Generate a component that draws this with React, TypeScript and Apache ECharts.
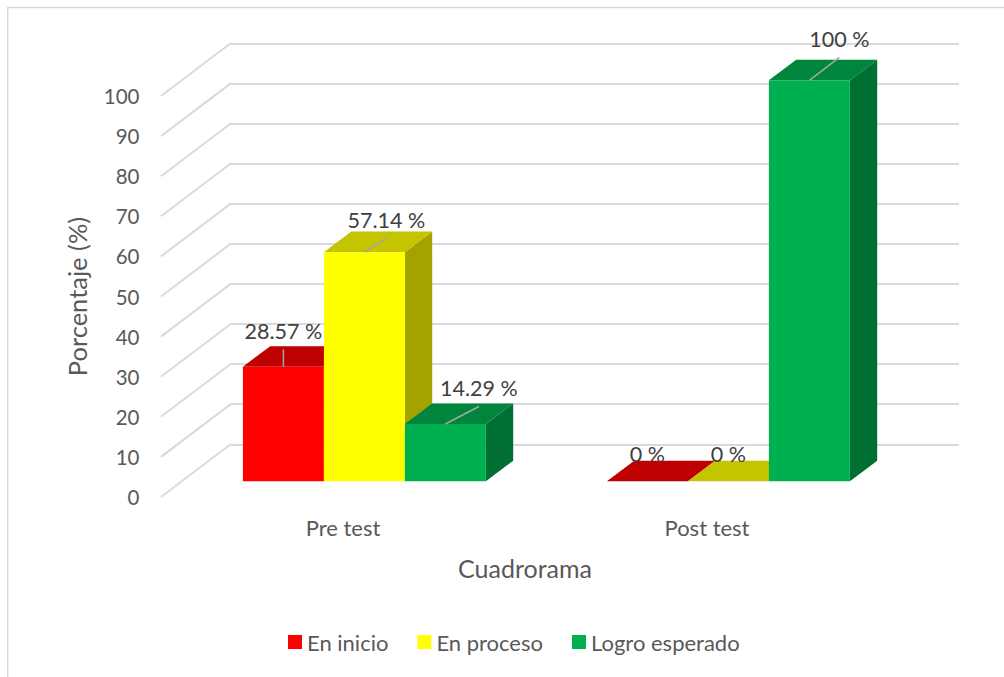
import React, { useEffect, useRef } from "react";
import * as echarts from "echarts";

const categories = ["Pre test", "Post test"];
const seriesNames = ["En inicio", "En proceso", "Logro esperado"];
const enInicio = [28.57, 0];
const enProceso = [57.14, 0];
const logroEsperado = [14.29, 100];
const valueTicks = [0, 10, 20, 30, 40, 50, 60, 70, 80, 90, 100];
const labelTexts = [
  ["28.57 %", "0 %"],
  ["57.14 %", "0 %"],
  ["14.29 %", "100 %"],
];

const FONT = "Lato";
const palette = [
  { front: "#FF0000", top: "#BF0000", side: "#A60000" },
  { front: "#FFFF00", top: "#C4C400", side: "#A3A300" },
  { front: "#00B050", top: "#00853C", side: "#006F32" },
];
const BAR_DEPTH = [27.3, -20.6];
const WALL_DEPTH = [70, -53];
const BAR_FRACTION = 0.2225;
// [label dx, label dy, leader dx, leader dy] from the middle of the bar's front top edge
const labelLayout = [
  [[0, -36, 0, -17.5], [0, -27, 0, 0]],
  [[22, -32, 22, -14], [0, -27, 0, 0]],
  [[33.5, -36, 33.5, -17.5], [30, -41, 30, -23]],
];

const allValues = [enInicio, enProceso, logroEsperado];

function barFaces(sIdx: number) {
  return (_params: any, api: any) => {
    const cat = api.value(0);
    const val = api.value(1);
    const band = api.size([1, 0])[0];
    const barW = band * BAR_FRACTION;
    const c = api.coord([cat, val]);
    const b = api.coord([cat, 0]);
    const x0 = c[0] + (sIdx - 1.5) * barW;
    const x1 = x0 + barW;
    const [dx, dy] = BAR_DEPTH;
    const col = palette[sIdx];
    const children: any[] = [
      {
        type: "polygon",
        shape: { points: [[x1, c[1]], [x1 + dx, c[1] + dy], [x1 + dx, b[1] + dy], [x1, b[1]]] },
        style: { fill: col.side },
      },
      {
        type: "polygon",
        shape: { points: [[x0, c[1]], [x0 + dx, c[1] + dy], [x1 + dx, c[1] + dy], [x1, c[1]]] },
        style: { fill: col.top },
      },
    ];
    if (val > 0) {
      children.push({
        type: "rect",
        shape: { x: x0, y: c[1], width: barW, height: b[1] - c[1] },
        style: { fill: col.front },
      });
    }
    return { type: "group", children };
  };
}

function barLabels(sIdx: number) {
  return (_params: any, api: any) => {
    const cat = api.value(0);
    const val = api.value(1);
    const barW = api.size([1, 0])[0] * BAR_FRACTION;
    const c = api.coord([cat, val]);
    const mid = c[0] + (sIdx - 1) * barW;
    const [lx, ly, ex, ey] = labelLayout[sIdx][cat];
    const children: any[] = [];
    if (ex !== 0 || ey !== 0) {
      children.push({
        type: "line",
        shape: { x1: mid, y1: c[1], x2: mid + ex, y2: c[1] + ey },
        style: { stroke: "#A6A6A6", lineWidth: 1.5 },
      });
    }
    children.push({
      type: "text",
      style: {
        x: mid + lx,
        y: c[1] + ly,
        text: labelTexts[sIdx][cat],
        fill: "#404040",
        font: `21.5px ${FONT}`,
        align: "center",
        verticalAlign: "middle",
      },
    });
    return { type: "group", children };
  };
}

function wallDiagonal(params: any, api: any) {
  const p = api.coord([0, api.value(0)]);
  const x = params.coordSys.x;
  return {
    type: "line",
    shape: { x1: x, y1: p[1], x2: x + WALL_DEPTH[0], y2: p[1] + WALL_DEPTH[1] },
    style: { stroke: "#DADADA", lineWidth: 2 },
  };
}

export default function App() {
  const ref = useRef<HTMLDivElement>(null);
  useEffect(() => {
    const chart = echarts.init(ref.current!, undefined, { renderer: "svg" });
    const hiddenCat = (gridIndex: number) => ({
      type: "category" as const,
      gridIndex,
      data: categories,
      show: false,
    });
    chart.setOption({
      animation: false,
      backgroundColor: "#FFFFFF",
      textStyle: { fontFamily: FONT },
      graphic: [
        {
          type: "polyline",
          shape: { points: [[7.75, 677], [7.75, 7.5], [1004, 7.5]] },
          style: { stroke: "#D9D9D9", lineWidth: 1.5, fill: "none" },
          silent: true,
        },
      ],
      grid: [
        { left: 231, top: 43.3, width: 728, height: 401 },
        { left: 182.4, top: 80.3, width: 728, height: 401 },
        { left: 161, top: 96, width: 728, height: 401 },
      ],
      xAxis: [
        hiddenCat(0),
        hiddenCat(1),
        {
          type: "category",
          gridIndex: 2,
          data: categories,
          axisLine: { show: false },
          axisTick: { show: false },
          axisLabel: { color: "#595959", fontSize: 22, fontFamily: FONT, margin: 19 },
          name: "Cuadrorama",
          nameLocation: "middle",
          nameGap: 58,
          nameTextStyle: { color: "#595959", fontSize: 25, fontFamily: FONT },
        },
      ],
      yAxis: [
        {
          type: "value",
          gridIndex: 0,
          min: 0,
          max: 100,
          interval: 10,
          axisLine: { show: false },
          axisTick: { show: false },
          axisLabel: { show: false },
          splitLine: { show: true, lineStyle: { color: "#DADADA", width: 2 } },
        },
        { type: "value", gridIndex: 1, min: 0, max: 100, interval: 10, show: false, splitLine: { show: false } },
        {
          type: "value",
          gridIndex: 2,
          min: 0,
          max: 100,
          interval: 10,
          axisLine: { show: false },
          axisTick: { show: false },
          splitLine: { show: false },
          axisLabel: { color: "#595959", fontSize: 20.5, fontFamily: FONT, margin: 21.5 },
          name: "Porcentaje (%)",
          nameLocation: "middle",
          nameRotate: 90,
          nameGap: 71,
          nameTextStyle: { color: "#595959", fontSize: 25.5, fontFamily: FONT },
        },
      ],
      legend: {
        data: seriesNames,
        selectedMode: false,
        left: 283,
        top: 626,
        icon: "rect",
        itemWidth: 14,
        itemHeight: 14,
        itemGap: 29,
        textStyle: { color: "#595959", fontSize: 22, fontFamily: FONT },
      },
      series: [
        {
          type: "custom",
          name: "walls",
          xAxisIndex: 2,
          yAxisIndex: 2,
          z: 1,
          silent: true,
          data: valueTicks.map((v) => [v]),
          encode: { y: 0 },
          renderItem: wallDiagonal,
        },
        ...seriesNames.map((name, s) => ({
          type: "custom",
          name,
          xAxisIndex: 1,
          yAxisIndex: 1,
          z: 3,
          itemStyle: { color: palette[s].front },
          data: allValues[s].map((v, i) => [i, v]),
          encode: { x: 0, y: 1 },
          renderItem: barFaces(s),
        })),
        ...seriesNames.map((name, s) => ({
          type: "custom",
          name: `${name} etiquetas`,
          xAxisIndex: 1,
          yAxisIndex: 1,
          z: 5,
          silent: true,
          data: allValues[s].map((v, i) => [i, v]),
          encode: { x: 0, y: 1 },
          renderItem: barLabels(s),
        })),
      ],
    });
    return () => chart.dispose();
  }, []);
  return (
    <div
      ref={ref}
      style={{ position: "absolute", left: 0, top: 0, width: 1004, height: 677 }}
    />
  );
}
